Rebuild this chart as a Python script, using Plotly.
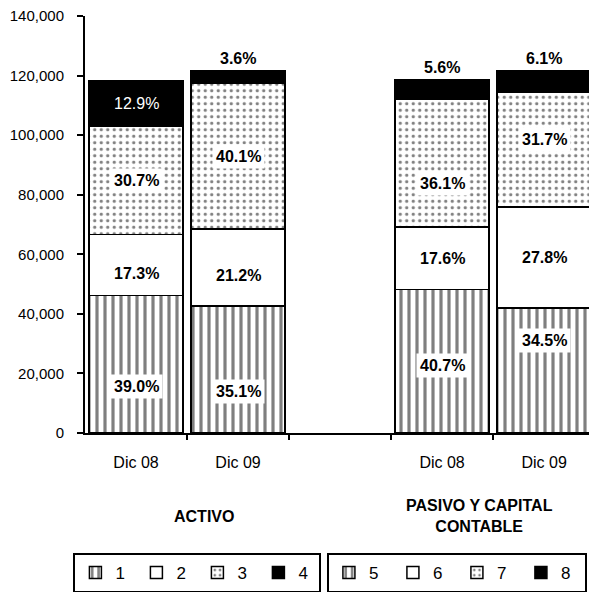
import plotly.graph_objects as go

# Period labels under each group of bars
periods = ["Dic 08", "Dic 09"]

# ACTIVO: stacked components (series 1-4), in pesos
activo_names = ["1", "2", "3", "4"]
activo_1 = [46100, 42700]
activo_2 = [20500, 25800]
activo_3 = [36300, 48800]
activo_4 = [15300, 4400]
activo_pct = [
    ["39.0%", "35.1%"],
    ["17.3%", "21.2%"],
    ["30.7%", "40.1%"],
    ["12.9%", "3.6%"],
]

# PASIVO Y CAPITAL CONTABLE: stacked components (series 5-8)
pasivo_names = ["5", "6", "7", "8"]
pasivo_5 = [48200, 42000]
pasivo_6 = [20900, 33800]
pasivo_7 = [42800, 38500]
pasivo_8 = [6600, 7400]
pasivo_pct = [
    ["40.7%", "34.5%"],
    ["17.6%", "27.8%"],
    ["36.1%", "31.7%"],
    ["5.6%", "6.1%"],
]

y_ticks = [0, 20000, 40000, 60000, 80000, 100000, 120000, 140000]

FONT = "Liberation Sans, Arial, sans-serif"

# slot positions on the x axis (slot 2 is left empty between the groups)
activo_x = [0, 1]
pasivo_x = [3, 4]

# fill styles shared by both groups: vertical stripes, plain white, dots, solid black
styles = [
    dict(color="white", pattern=dict(shape="|", fgcolor="black", bgcolor="white",
                                     size=8, solidity=0.4, fillmode="overlay")),
    dict(color="white"),
    dict(color="white", pattern=dict(shape=".", fgcolor="black", bgcolor="white",
                                     size=6.5, solidity=0.2, fillmode="overlay")),
    dict(color="black"),
]

fig = go.Figure()
annotations = []


def add_group(xs, names, series, pcts, legend_id):
    base = [0] * len(xs)
    for i, (name, vals) in enumerate(zip(names, series)):
        st = styles[i]
        marker = dict(color=st["color"], line=dict(color="black", width=1.5))
        if "pattern" in st:
            marker["pattern"] = st["pattern"]
        fig.add_trace(go.Bar(
            x=xs, y=vals, name=name, marker=marker, width=0.92,
            legend=legend_id, showlegend=True, hoverinfo="skip",
        ))
        top_segment = i == len(series) - 1
        for j, x in enumerate(xs):
            label = pcts[i][j]
            if top_segment and label != "12.9%":
                annotations.append(dict(
                    x=x, y=base[j] + vals[j], xref="x", yref="y", text="<b>%s</b>" % label,
                    showarrow=False, yanchor="bottom", yshift=2,
                    font=dict(family=FONT, size=16, color="black"),
                ))
            elif top_segment:
                annotations.append(dict(
                    x=x, y=base[j] + vals[j] / 2, xref="x", yref="y", text=label,
                    showarrow=False, font=dict(family=FONT, size=16, color="white"),
                ))
            else:
                shift = 0
                if i == 0:
                    shift = -22 if legend_id == "legend" else (-4 if j == 0 else 30)
                elif i == 1 and legend_id == "legend":
                    shift = -8
                elif i == 2 and legend_id == "legend2":
                    shift = -20 if j == 0 else 10
                annotations.append(dict(
                    x=x, y=base[j] + vals[j] / 2, xref="x", yref="y",
                    text="<b>%s</b>" % label, showarrow=False, yshift=shift,
                    bgcolor="white", borderpad=3,
                    font=dict(family=FONT, size=16, color="black"),
                ))
            base[j] += vals[j]


add_group(activo_x, activo_names, [activo_1, activo_2, activo_3, activo_4], activo_pct, "legend")
add_group(pasivo_x, pasivo_names, [pasivo_5, pasivo_6, pasivo_7, pasivo_8], pasivo_pct, "legend2")

# group titles under the period labels
annotations.append(dict(
    x=0.67, y=-0.2, xref="x", yref="paper", text="<b>ACTIVO</b>", showarrow=False,
    yanchor="middle", font=dict(family=FONT, size=16, color="black"),
))
annotations.append(dict(
    x=3.37, y=-0.198, xref="x", yref="paper", text="<b>PASIVO Y CAPITAL<br>CONTABLE</b>",
    showarrow=False, yanchor="middle", font=dict(family=FONT, size=16, color="black"),
))

legend_common = dict(
    orientation="h", yanchor="top", xanchor="left", y=-0.2878,
    bordercolor="black", borderwidth=2, bgcolor="white",
    font=dict(family=FONT, size=17, color="black"),
    traceorder="normal", itemclick=False, itemdoubleclick=False,
    itemwidth=30,
)

fig.update_layout(
    width=589, height=592,
    margin=dict(l=85, r=0, t=16, b=159, autoexpand=False),
    paper_bgcolor="white", plot_bgcolor="white",
    barmode="stack", bargap=0.08,
    font=dict(family=FONT, size=15, color="black"),
    annotations=annotations,
    legend=dict(x=-0.023, entrywidth=16, **legend_common),
    legend2=dict(x=0.48, entrywidth=19, **legend_common),
    xaxis=dict(
        range=[-0.5, 4.44], showgrid=False, zeroline=False,
        showline=True, linecolor="black", linewidth=2,
        tickmode="array", tickvals=activo_x + pasivo_x, ticktext=periods + periods,
        ticks="", ticklabelstandoff=14,
        tickfont=dict(family=FONT, size=16, color="black"),
        minor=dict(tickmode="array", tickvals=[0.5, 1.5, 2.5, 3.5],
                   ticks="outside", ticklen=5, tickwidth=1.5, tickcolor="black"),
    ),
    yaxis=dict(
        range=[0, 140000], showgrid=False, zeroline=False,
        showline=True, linecolor="black", linewidth=2,
        tickmode="array", tickvals=y_ticks, tickformat=",d",
        ticks="outside", ticklen=6, tickwidth=1.5, tickcolor="black",
        ticklabelstandoff=10,
        tickfont=dict(family=FONT, size=15, color="black"),
    ),
)

fig.write_html("out.html")
